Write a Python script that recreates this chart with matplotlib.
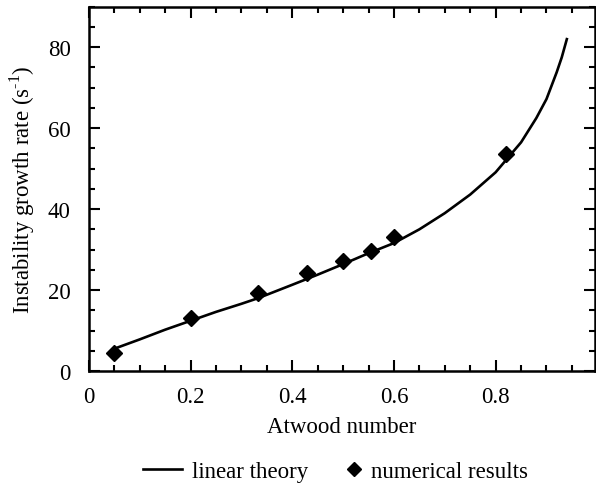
import matplotlib
matplotlib.use('Agg')
from matplotlib import pyplot as plt
from matplotlib.ticker import MultipleLocator

plt.rcParams['font.family'] = ['Liberation Serif', 'DejaVu Serif']
plt.rcParams['mathtext.fontset'] = 'custom'
plt.rcParams['mathtext.rm'] = 'Liberation Serif'

# linear theory curve
theory_x = [0.05, 0.1, 0.15, 0.2, 0.25, 0.3, 0.333, 0.4, 0.45, 0.5, 0.55, 0.6,
            0.65, 0.7, 0.75, 0.8, 0.85, 0.88, 0.9, 0.92, 0.93, 0.94]
theory_y = [5.5, 7.8, 10.2, 12.4, 14.6, 16.6, 18.0, 21.3, 23.8, 26.4, 29.1, 31.6,
            35.0, 39.0, 43.6, 49.1, 56.5, 62.5, 67.2, 73.8, 77.5, 82.0]

# numerical results
num_x = [0.05, 0.2, 0.333, 0.43, 0.5, 0.555, 0.6, 0.82]
num_y = [4.4, 13.1, 19.3, 24.2, 27.2, 29.6, 33.1, 53.6]

fs = 16.5
fig = plt.figure(figsize=(5.96, 4.85), dpi=100)
ax = fig.add_axes([0.149, 0.233, 0.849, 0.751])

line, = ax.plot(theory_x, theory_y, 'k-', linewidth=1.9, label='linear theory')
pts, = ax.plot(num_x, num_y, 'kD', markersize=8.5, linestyle='none', label='numerical results')

ax.set_xlim(0, 0.995)
ax.set_ylim(0, 90)
ax.xaxis.set_minor_locator(MultipleLocator(0.05))
ax.yaxis.set_major_locator(MultipleLocator(20))
ax.yaxis.set_minor_locator(MultipleLocator(5))
ax.set_xticks([0, 0.2, 0.4, 0.6, 0.8])
ax.set_xticklabels(['0', '0.2', '0.4', '0.6', '0.8'])

ax.tick_params(which='both', direction='in', top=True, right=True, width=1.5,
               labelsize=fs)
ax.tick_params(axis='x', which='major', pad=11)
ax.tick_params(axis='y', which='major', pad=13)
ax.tick_params(which='major', length=8)
ax.tick_params(which='minor', length=4.5)
for s in ax.spines.values():
    s.set_linewidth(1.8)

ax.set_xlabel('Atwood number', fontsize=fs, labelpad=6)
ax.set_ylabel('Instability growth rate (s$^{\u20101}$)', fontsize=fs, labelpad=8)

leg1 = fig.legend(handles=[line], loc='center right', bbox_to_anchor=(0.518, 0.025),
                  frameon=False, fontsize=fs, handlelength=1.7, handletextpad=0.45,
                  borderaxespad=0, borderpad=0)
leg2 = fig.legend(handles=[pts], loc='center left', bbox_to_anchor=(0.582, 0.025),
                  frameon=False, fontsize=fs, handlelength=0.6, handletextpad=0.45,
                  borderaxespad=0, borderpad=0, markerscale=0.8)

fig.savefig('out.png', dpi=100)
